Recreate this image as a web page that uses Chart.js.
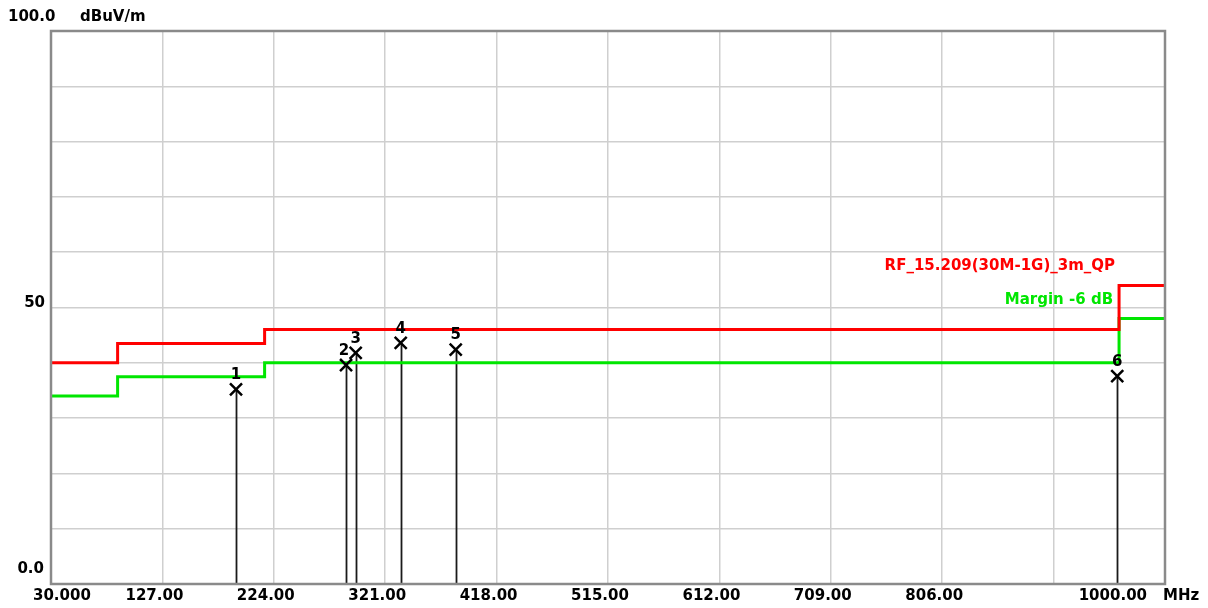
<!DOCTYPE html>
<html>
<head>
<meta charset="utf-8">
<script src="https://cdn.jsdelivr.net/npm/chart.js@4/dist/chart.umd.min.js"></script>
<style>
  html, body { margin: 0; padding: 0; background: #ffffff; }
  #wrap { width: 1208px; height: 608px; }
</style>
</head>
<body>
<div id="wrap"><canvas id="c" width="1208" height="608"></canvas></div>
<script>
// ---- data ----
const limitFreq   = [30, 88, 88, 216, 216, 960, 960, 1000];
const limitLevel  = [40, 40, 43.5, 43.5, 46, 46, 54, 54];
const marginLevel = [34, 34, 37.5, 37.5, 40, 40, 48, 48];
const markerNo    = ["1", "2", "3", "4", "5", "6"];
const markerFreq  = [191.1, 286.9, 295.3, 334.5, 382.4, 958.4];
const markerLevel = [35.2, 39.6, 41.8, 43.6, 42.4, 37.6];
const xTickValues = [30, 127, 224, 321, 418, 515, 612, 709, 806, 1000];
const xTickLabels = ["30.000", "127.00", "224.00", "321.00", "418.00", "515.00", "612.00", "709.00", "806.00", "1000.00"];
const yUnit = "dBuV/m";
const xUnit = "MHz";
const limitName = "RF_15.209(30M-1G)_3m_QP";
const marginName = "Margin -6 dB";

const FONT = 'bold 15px "DejaVu Sans"';

const toPts = (xs, ys) => xs.map((x, i) => ({ x: x, y: ys[i] }));

const drawPlugin = {
  id: 'emcDecor',
  beforeDatasetsDraw(chart) {
    const ctx = chart.ctx, xs = chart.scales.x, ys = chart.scales.y;
    ctx.save();
    ctx.strokeStyle = '#1a1a1a';
    ctx.lineWidth = 1.8;
    markerFreq.forEach((f, i) => {
      const px = Math.round(xs.getPixelForValue(f)) + 0.5;
      ctx.beginPath();
      ctx.moveTo(px, ys.getPixelForValue(0));
      ctx.lineTo(px, ys.getPixelForValue(markerLevel[i]));
      ctx.stroke();
    });
    ctx.restore();
  },
  afterDatasetsDraw(chart) {
    const ctx = chart.ctx, xs = chart.scales.x, ys = chart.scales.y, a = chart.chartArea;
    ctx.save();
    // marker numbers
    ctx.fillStyle = '#000';
    ctx.font = 'bold 15px "DejaVu Sans"';
    ctx.textAlign = 'center';
    ctx.textBaseline = 'middle';
    markerFreq.forEach((f, i) => {
      ctx.fillText(markerNo[i], xs.getPixelForValue(f) - (i === 1 ? 2 : 0), ys.getPixelForValue(markerLevel[i]) - 14);
    });
    // frame
    ctx.strokeStyle = '#8a8a8a';
    ctx.lineWidth = 2.5;
    ctx.strokeRect(a.left, a.top, a.right - a.left, a.bottom - a.top);
    // y labels
    ctx.font = FONT;
    ctx.fillStyle = '#000';
    ctx.textBaseline = 'middle';
    ctx.textAlign = 'left';
    ctx.fillText("100.0", a.left - 43, ys.getPixelForValue(100) - 14);
    ctx.fillText(yUnit, a.left + 29, ys.getPixelForValue(100) - 14);
    ctx.textAlign = 'right';
    ctx.fillText("50", a.left - 6, ys.getPixelForValue(50) - 4);
    ctx.fillText("0.0", a.left - 7, ys.getPixelForValue(0) - 15);
    // x labels
    const ly = a.bottom + 12;
    xTickValues.forEach((v, i) => {
      const px = xs.getPixelForValue(v);
      if (i === 0) {
        ctx.textAlign = 'left';
        ctx.fillText(xTickLabels[i], px - 18, ly);
      } else if (i === xTickValues.length - 1) {
        ctx.textAlign = 'right';
        ctx.fillText(xTickLabels[i], px - 18, ly);
      } else {
        ctx.textAlign = 'center';
        ctx.fillText(xTickLabels[i], px - 8, ly);
      }
    });
    ctx.textAlign = 'left';
    ctx.fillText(xUnit, xs.getPixelForValue(1000) - 2, ly);
    // legend texts
    ctx.textAlign = 'right';
    ctx.fillStyle = '#ff0000';
    ctx.fillText(limitName, xs.getPixelForValue(960) - 4, ys.getPixelForValue(54) - 19);
    ctx.fillStyle = '#00e600';
    ctx.fillText(marginName, xs.getPixelForValue(960) - 6, ys.getPixelForValue(48) - 18);
    ctx.restore();
  }
};

new Chart(document.getElementById('c'), {
  type: 'scatter',
  data: {
    datasets: [
      {
        label: 'markers',
        data: toPts(markerFreq, markerLevel),
        showLine: false,
        pointStyle: 'crossRot',
        pointRadius: 8.5,
        pointHoverRadius: 8.5,
        pointBorderColor: '#000',
        pointBorderWidth: 2.5,
        borderColor: '#000',
        order: 0
      },
      {
        label: 'limit',
        data: toPts(limitFreq, limitLevel),
        showLine: true,
        borderColor: '#ff0000',
        borderWidth: 3,
        pointRadius: 0,
        fill: false,
        order: 1
      },
      {
        label: 'margin',
        data: toPts(limitFreq, marginLevel),
        showLine: true,
        borderColor: '#00e600',
        borderWidth: 3,
        pointRadius: 0,
        fill: false,
        order: 2
      }
    ]
  },
  options: {
    responsive: false,
    animation: false,
    devicePixelRatio: 1,
    layout: { padding: { left: 51, top: 31, right: 43, bottom: 24 } },
    plugins: { legend: { display: false }, tooltip: { enabled: false } },
    events: [],
    scales: {
      x: {
        type: 'linear', min: 30, max: 1000,
        ticks: { display: false, stepSize: 97 },
        grid: { color: '#cfcfcf', lineWidth: 1.5, drawTicks: false },
        border: { display: false }
      },
      y: {
        type: 'linear', min: 0, max: 100,
        ticks: { display: false, stepSize: 10 },
        grid: { color: '#cfcfcf', lineWidth: 1.5, drawTicks: false },
        border: { display: false }
      }
    }
  },
  plugins: [drawPlugin]
});
</script>
</body>
</html>
